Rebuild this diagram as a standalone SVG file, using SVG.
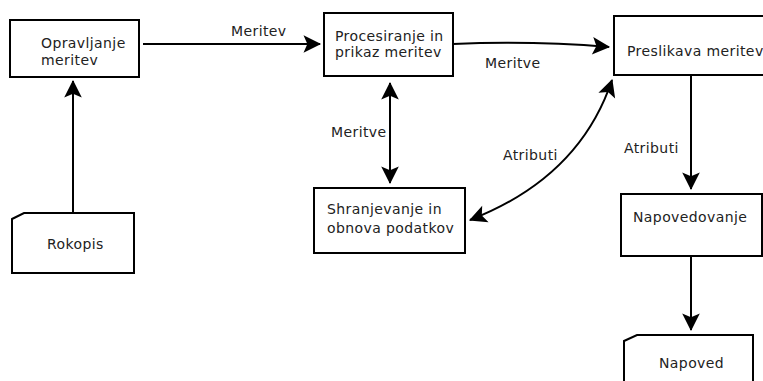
<svg xmlns="http://www.w3.org/2000/svg" width="763" height="381" viewBox="0 0 763 381">
<style>
.box{fill:#fff;stroke:#000;stroke-width:2}
.t{font-family:"DejaVu Sans",sans-serif;font-size:14px;letter-spacing:0.4px;fill:#222}
.c{fill:none;stroke:#000;stroke-width:2}
</style>
<defs>
<marker id="ah" markerUnits="userSpaceOnUse" markerWidth="22" markerHeight="22" viewBox="-17 -10 19 20" refX="0" refY="0" orient="auto-start-reverse">
<path d="M1,0 L-15,-8 L-11.5,0 L-15,8 Z" fill="#000"/>
</marker>
</defs>
<rect width="763" height="381" fill="#fff"/>
<g id="connectors">
<path class="c" d="M143,44 L320,44" marker-end="url(#ah)"/>
<path class="c" d="M453,44 C500,42 560,43 609,47" marker-end="url(#ah)"/>
<path class="c" d="M390,83 L390,183" marker-start="url(#ah)" marker-end="url(#ah)"/>
<path class="c" d="M612,80 Q579.5,177.5 470,220" marker-start="url(#ah)" marker-end="url(#ah)"/>
<path class="c" d="M691,75 L691,189" marker-end="url(#ah)"/>
<path class="c" d="M691,256 L691,330" marker-end="url(#ah)"/>
<path class="c" d="M73,213 L73,81" marker-end="url(#ah)"/>
<text class="t" x="231" y="36">Meritev</text>
<text class="t" x="485" y="68">Meritve</text>
<text class="t" x="331" y="137">Meritve</text>
<text class="t" x="503" y="160">Atributi</text>
<text class="t" x="624" y="153">Atributi</text>
</g>
<g id="opravljanje">
<rect class="box" x="10" y="20" width="129" height="57"/>
<text class="t" x="41" y="48">Opravljanje</text>
<text class="t" x="41" y="65">meritev</text>
</g>
<g id="procesiranje">
<rect class="box" x="324" y="13" width="129" height="63"/>
<text class="t" x="335" y="41">Procesiranje in</text>
<text class="t" x="335" y="57">prikaz meritev</text>
</g>
<g id="preslikava">
<rect class="box" x="614" y="16" width="160" height="59"/>
<text class="t" x="627" y="56">Preslikava meritev</text>
</g>
<g id="shranjevanje">
<rect class="box" x="314" y="188" width="151" height="65"/>
<text class="t" x="327" y="214">Shranjevanje in</text>
<text class="t" x="327" y="233">obnova podatkov</text>
</g>
<g id="napovedovanje">
<rect class="box" x="621" y="194" width="141" height="62"/>
<text class="t" x="633" y="222">Napovedovanje</text>
</g>
<g id="rokopis">
<path class="box" d="M12,219 L24,213 L134,213 L134,273 L12,273 Z"/>
<text class="t" x="47" y="249">Rokopis</text>
</g>
<g id="napoved">
<path class="box" d="M624,341 L637,335 L753,335 L753,390 L624,390 Z"/>
<text class="t" x="659" y="368">Napoved</text>
</g>
</svg>
